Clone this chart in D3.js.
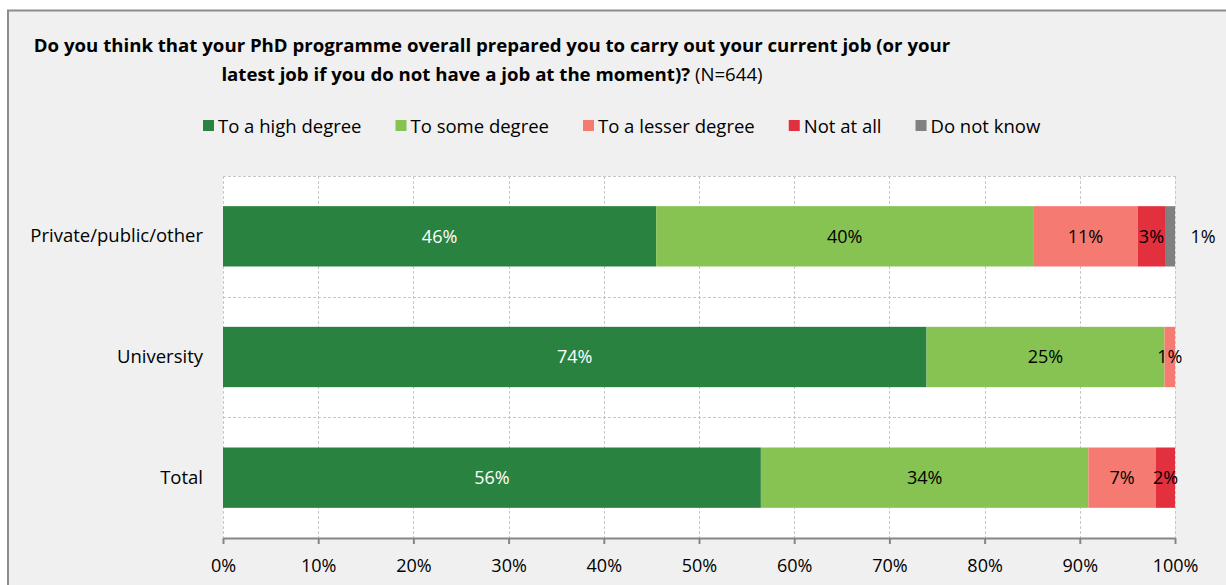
<!DOCTYPE html>
<html>
<head>
<meta charset="utf-8">
<script src="https://cdn.jsdelivr.net/npm/d3@7/dist/d3.min.js"></script>
<style>
  html, body { margin: 0; padding: 0; background: #ffffff; }
  svg { display: block; }
  text { font-family: "Open Sans", sans-serif; }
</style>
</head>
<body>
<svg id="chart" width="1226" height="585"></svg>
<script>
const categories = ["Private/public/other", "University", "Total"];
const seriesNames = ["To a high degree", "To some degree", "To a lesser degree", "Not at all", "Do not know"];
const seriesColors = ["#2a8241", "#86c352", "#f47a72", "#e3303f", "#808080"];
const highDegree   = [45.5, 73.9, 56.5];
const someDegree   = [39.6, 25.0, 34.4];
const lesserDegree = [11.0, 1.1, 7.1];
const notAtAll     = [2.85, 0, 2.0];
const doNotKnow    = [1.05, 0, 0];
const labelsHigh   = ["46%", "74%", "56%"];
const labelsSome   = ["40%", "25%", "34%"];
const labelsLesser = ["11%", "1%", "7%"];
const labelsNot    = ["3%", "", "2%"];
const labelsDnk    = ["1%", "", ""];
const xTicks = [0, 10, 20, 30, 40, 50, 60, 70, 80, 90, 100];
const titleLine1 = "Do you think that your PhD programme overall prepared you to carry out your current job (or your";
const titleLine2Bold = "latest job if you do not have a job at the moment)?";
const titleLine2Normal = " (N=644)";

const seriesValues = [highDegree, someDegree, lesserDegree, notAtAll, doNotKnow];
const seriesLabels = [labelsHigh, labelsSome, labelsLesser, labelsNot, labelsDnk];

const FS_NUM = 18;
const FS_TXT = 18.5;
const svg = d3.select("#chart");
const W = 1226, H = 585;

svg.append("rect").attr("x", 7).attr("y", 10).attr("width", W - 7).attr("height", H - 10)
  .attr("fill", "#f0f0f0");
svg.append("line").attr("x1", 7).attr("x2", W).attr("y1", 10.5).attr("y2", 10.5)
  .attr("stroke", "#8c8c8c").attr("stroke-width", 2);
svg.append("line").attr("x1", 8).attr("x2", 8).attr("y1", 10).attr("y2", H)
  .attr("stroke", "#8c8c8c").attr("stroke-width", 2);

const margin = { left: 223, right: 1175, top: 176, bottom: 538 };
const x = d3.scaleLinear().domain([0, 100]).range([margin.left, margin.right]);
const y = d3.scaleBand().domain(categories).range([margin.top, margin.bottom]).paddingInner(0.5).paddingOuter(0.25);

svg.append("rect").attr("x", margin.left).attr("y", margin.top)
  .attr("width", margin.right - margin.left).attr("height", margin.bottom - margin.top)
  .attr("fill", "#ffffff");

const grid = svg.append("g");
grid.selectAll("line.v").data(xTicks).join("line")
  .attr("x1", d => Math.round(x(d)) + 0.5).attr("x2", d => Math.round(x(d)) + 0.5)
  .attr("y1", margin.top).attr("y2", margin.bottom)
  .attr("stroke", "#c8c8c8").attr("stroke-dasharray", "3,2").attr("stroke-width", 1);
const hLines = [0, 1, 2].map(k => margin.top + k * (margin.bottom - margin.top) / 3);
grid.selectAll("line.h").data(hLines).join("line")
  .attr("x1", margin.left).attr("x2", margin.right)
  .attr("y1", d => Math.round(d) + 0.5).attr("y2", d => Math.round(d) + 0.5)
  .attr("stroke", "#c8c8c8").attr("stroke-dasharray", "3,2").attr("stroke-width", 1);

const rows = categories.map((c, i) => {
  const o = { cat: c };
  seriesNames.forEach((s, j) => { o[s] = seriesValues[j][i]; });
  return o;
});
const stack = d3.stack().keys(seriesNames)(rows);

const bars = svg.append("g");
stack.forEach((layer, j) => {
  bars.selectAll(null).data(layer).join("rect")
    .attr("x", d => x(d[0]))
    .attr("y", d => y(d.data.cat))
    .attr("width", d => Math.max(0, x(d[1]) - x(d[0])))
    .attr("height", y.bandwidth())
    .attr("fill", seriesColors[j]);
});

const lab = svg.append("g").attr("font-size", FS_NUM);
stack.forEach((layer, j) => {
  layer.forEach((d, i) => {
    const t = seriesLabels[j][i];
    if (!t) return;
    let cx = (x(d[0]) + x(d[1])) / 2;
    if (j === 4) cx = x(100) + 28;
    lab.append("text")
      .attr("x", cx)
      .attr("y", y(d.data.cat) + y.bandwidth() / 2)
      .attr("dy", "0.36em")
      .attr("text-anchor", "middle")
      .attr("fill", j === 0 ? "#ffffff" : "#000000")
      .text(t);
  });
});

const xAxis = d3.axisBottom(x).tickValues(xTicks).tickFormat(d => d + "%").tickSize(6).tickSizeOuter(0);
const ax = svg.append("g").attr("transform", `translate(0,${margin.bottom})`).call(xAxis);
ax.select(".domain").attr("stroke", "#868686").attr("stroke-width", 2);
ax.selectAll(".tick line").attr("stroke", "#868686").attr("stroke-width", 2);
ax.selectAll(".tick text").attr("font-size", FS_NUM).attr("font-family", "'Open Sans', sans-serif")
  .attr("fill", "#000").attr("dy", "1.38em");

const yAxis = d3.axisLeft(y).tickSize(0).tickPadding(20);
const ay = svg.append("g").attr("transform", `translate(${margin.left},0)`).call(yAxis);
ay.select(".domain").remove();
ay.selectAll(".tick text").attr("font-size", FS_TXT).attr("font-family", "'Open Sans', sans-serif").attr("fill", "#000");

const title = svg.append("g");
const t1 = title.append("text").attr("x", 492).attr("y", 52).attr("text-anchor", "middle")
  .attr("font-weight", "bold").attr("font-size", 16).text(titleLine1);
const w1 = t1.node().getComputedTextLength();
const tfs = 16 * 917 / w1;
t1.attr("font-size", tfs);
const t2 = title.append("text").attr("x", 492).attr("y", 81).attr("text-anchor", "middle").attr("font-size", tfs);
t2.append("tspan").attr("font-weight", "bold").text(titleLine2Bold);
t2.append("tspan").attr("font-weight", "normal").text(titleLine2Normal);

const legend = svg.append("g").attr("font-size", FS_TXT);
let lx = 203;
seriesNames.forEach((s, j) => {
  legend.append("rect").attr("x", lx).attr("y", 120).attr("width", 11).attr("height", 11).attr("fill", seriesColors[j]);
  const t = legend.append("text").attr("x", lx + 15).attr("y", 126).attr("dy", "0.36em").text(s);
  const w = t.node().getComputedTextLength();
  lx += 15 + w + 34;
});
</script>
</body>
</html>
